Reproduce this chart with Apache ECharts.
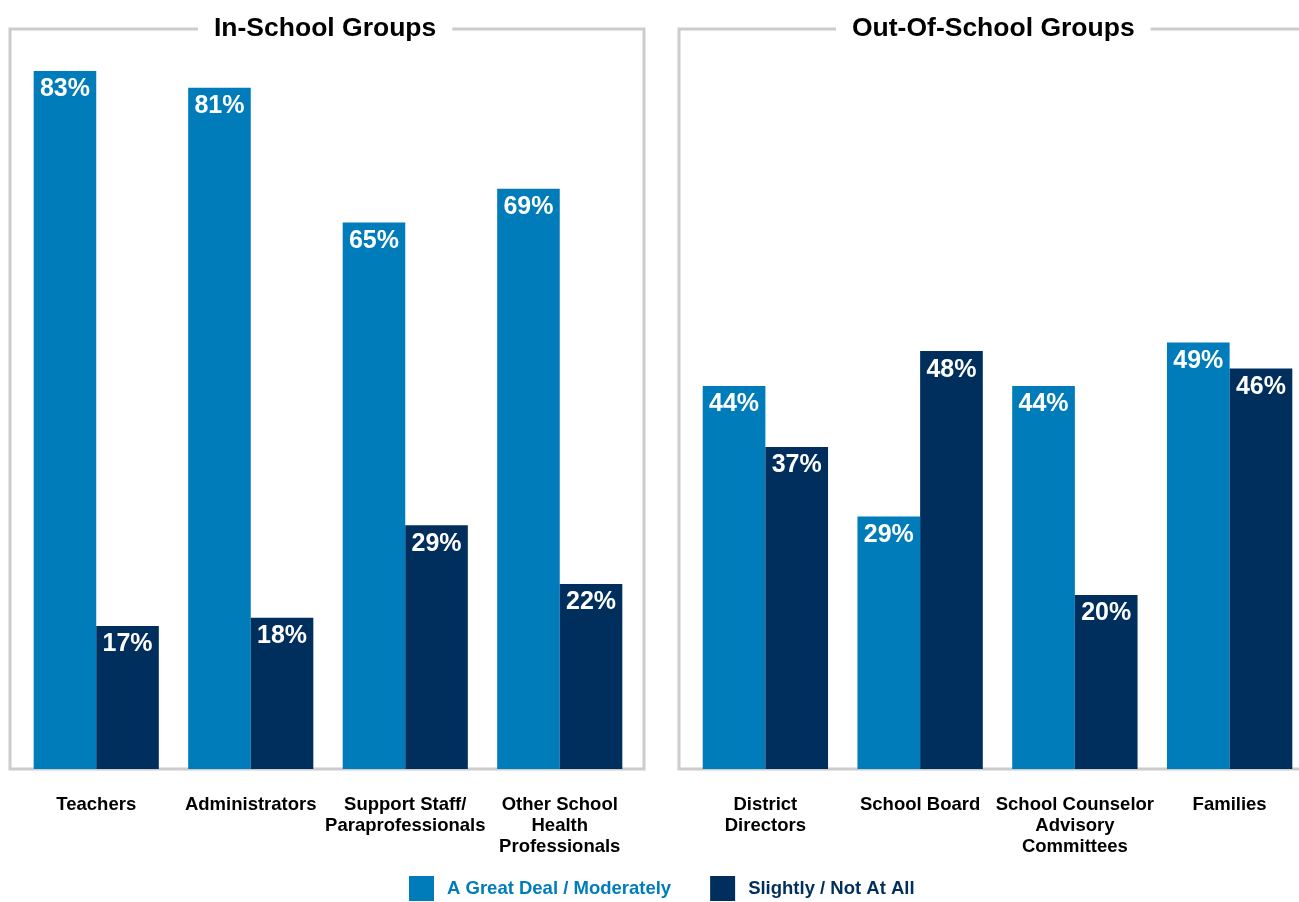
<!DOCTYPE html>
<html>
<head>
<meta charset="utf-8">
<script src="https://cdn.jsdelivr.net/npm/echarts@6/dist/echarts.min.js"></script>
<style>
  html, body { margin: 0; padding: 0; background: #fff; }
  #chart { width: 1299px; height: 902px; }
</style>
</head>
<body>
<div id="chart"></div>
<script>
// data (percent)
const inSchoolCats = ['Teachers', 'Administrators', 'Support Staff/\nParaprofessionals', 'Other School\nHealth\nProfessionals'];
const inSchoolGreat = [83, 81, 65, 69];
const inSchoolSlight = [17, 18, 29, 22];

const outSchoolCats = ['District\nDirectors', 'School Board', 'School Counselor\nAdvisory\nCommittees', 'Families'];
const outSchoolGreat = [44, 29, 44, 49];
const outSchoolSlight = [37, 48, 20, 46];

const seriesNames = ['A Great Deal / Moderately', 'Slightly / Not At All'];
const colors = ['#007CBA', '#002E5D'];

const font = '"Liberation Sans", Arial, sans-serif';

const chart = echarts.init(document.getElementById('chart'));

// bar label inside the top of each bar
const barLabel = {
    show: true,
    position: 'insideTop',
    distance: 6,
    formatter: '{c}%',
    color: '#fff',
    fontSize: 25,
    fontWeight: 'bold',
    fontFamily: font
};

const catAxis = (gridIndex, data) => ({
    type: 'category',
    gridIndex: gridIndex,
    data: data,
    axisLine: { show: false },
    axisTick: { show: false },
    axisLabel: {
        interval: 0,
        margin: 25,
        color: '#000',
        fontSize: 18.5,
        fontWeight: 'bold',
        lineHeight: 21,
        fontFamily: font
    }
});

const valAxis = (gridIndex, max) => ({
    type: 'value',
    gridIndex: gridIndex,
    min: 0,
    max: max,
    show: false,
    splitLine: { show: false }
});

const bar = (name, idx, data, color) => ({
    name: name,
    type: 'bar',
    xAxisIndex: idx,
    yAxisIndex: idx,
    data: data,
    barGap: 0,
    barCategoryGap: '19%',
    itemStyle: { color: color },
    label: barLabel,
    z: 3
});

const titleStyle = { fontSize: 26.5, fontWeight: 'bold', color: '#000', fontFamily: font };

chart.setOption({
    animation: false,
    backgroundColor: '#fff',
    textStyle: { fontFamily: font },
    title: [
        {
            text: 'In-School Groups',
            left: 198,
            top: 13,
            padding: [2, 16],
            backgroundColor: '#fff',
            textStyle: titleStyle
        },
        {
            text: 'Out-Of-School Groups',
            left: 836,
            top: 13,
            padding: [2, 16],
            backgroundColor: '#fff',
            textStyle: titleStyle
        }
    ],
    // panel frames
    graphic: [
        {
            type: 'rect',
            z: 0,
            shape: { x: 10, y: 29, width: 634, height: 740 },
            style: { fill: null, stroke: '#cccccc', lineWidth: 3 }
        },
        {
            type: 'rect',
            z: 0,
            shape: { x: 679, y: 29, width: 640, height: 740 },
            style: { fill: null, stroke: '#cccccc', lineWidth: 3 }
        }
    ],
    legend: {
        top: 876,
        left: 409,
        icon: 'rect',
        itemWidth: 25,
        itemHeight: 25,
        itemGap: 39,
        padding: 0,
        data: [
            { name: seriesNames[0], textStyle: { color: colors[0] } },
            { name: seriesNames[1], textStyle: { color: colors[1] } }
        ],
        textStyle: { fontSize: 18.5, fontWeight: 'bold', fontFamily: font, padding: [5, 0, 0, 8] }
    },
    grid: [
        { left: 19, width: 618, top: 29, height: 740, outerBoundsMode: 'none' },
        { left: 688, width: 619, top: 29, height: 740, outerBoundsMode: 'none' }
    ],
    xAxis: [catAxis(0, inSchoolCats), catAxis(1, outSchoolCats)],
    yAxis: [valAxis(0, 88), valAxis(1, 85)],
    series: [
        bar(seriesNames[0], 0, inSchoolGreat, colors[0]),
        bar(seriesNames[1], 0, inSchoolSlight, colors[1]),
        bar(seriesNames[0], 1, outSchoolGreat, colors[0]),
        bar(seriesNames[1], 1, outSchoolSlight, colors[1])
    ]
});
</script>
</body>
</html>
